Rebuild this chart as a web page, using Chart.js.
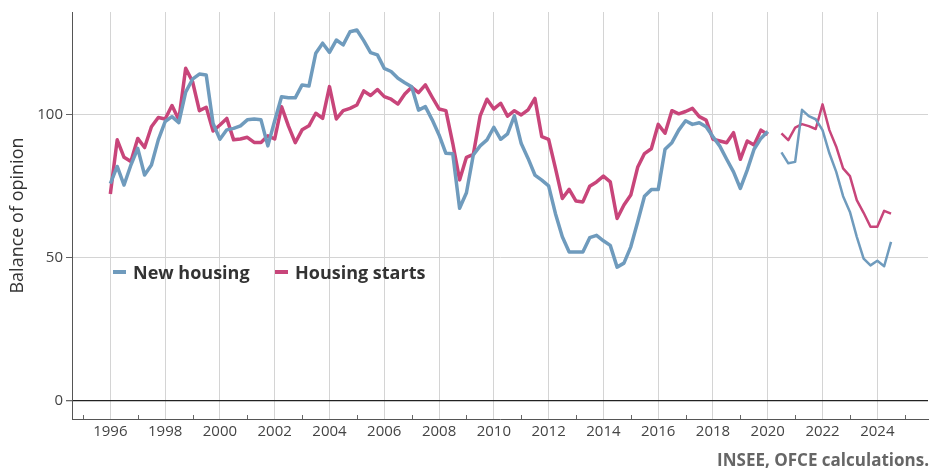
<!DOCTYPE html>
<html><head><meta charset="utf-8">
<script src="https://cdn.jsdelivr.net/npm/chart.js@4"></script>
<style>
html,body{margin:0;padding:0;background:#fff;}
#wrap{position:relative;width:932px;height:473px;font-family:"Open Sans",sans-serif;}
canvas{position:absolute;left:0;top:0;}
.leg{position:absolute;top:259px;font-weight:bold;font-size:18px;color:#333;display:flex;align-items:center;white-space:nowrap;line-height:26px;}
.leg i{display:inline-block;width:13px;height:4px;margin-right:7px;}
#src{position:absolute;right:3px;top:449px;font-weight:bold;font-size:17px;color:#666;line-height:22px;}
</style></head>
<body><div id="wrap"><canvas id="c" width="932" height="473"></canvas>
<div class="leg" style="left:113px"><i style="background:#6f9bbd"></i>New housing</div>
<div class="leg" style="left:275px"><i style="background:#c8457a"></i>Housing starts</div>
<div id="src">INSEE, OFCE calculations.</div>
</div>
<script>
// Quarterly categories 1996Q1 .. 2024Q3
const years = [1996,1997,1998,1999,2000,2001,2002,2003,2004,2005,2006,2007,2008,2009,2010,2011,2012,2013,2014,2015,2016,2017,2018,2019,2020,2021,2022,2023,2024];
const quarterNames = ['Q1','Q2','Q3','Q4'];
const lastQuarter = '2024Q3';

// Balance of opinion - new housing
const newHousing = [
  76, 82, 75.5, 82.5,
  88.3, 79, 82.5, 91.3,
  97.7, 99.4, 97.3, 108,
  112.5, 114.3, 114, 97,
  91.5, 94.8, 95.3, 96.2,
  98.3, 98.6, 98.3, 89.2,
  98, 106.4, 106, 106,
  110.5, 110.1, 121.6, 125.1,
  121.9, 126.2, 124.5, 129.1,
  129.7, 126, 121.8, 121,
  116.3, 115.2, 112.8, 111.3,
  109.9, 101.7, 102.9, 98.3,
  93, 86.6, 86.4, 67.4,
  72.8, 86, 89.2, 91.3,
  95.7, 91.5, 93.4, 99.7,
  90, 84.8, 79, 77.2,
  75.2, 65.5, 57.4, 52.1,
  52.1, 52.1, 57.1, 57.9,
  56, 54.4, 46.8, 48.2,
  53.9, 62.6, 71.6, 73.9,
  73.9, 88, 90.3, 94.7,
  98, 96.7, 97.3, 95.9,
  92.4, 89.1, 84.5, 80.1,
  74.3, 80.7, 88, 91.8,
  94.2, null, 86.9, 83.1,
  83.6, 101.8, 99.6, 98.5,
  94.7, 86.6, 80.1, 71.6,
  66.1, 57.4, 49.8, 47.4,
  49, 47.1, 55.6
];
// Balance of opinion - housing starts
const housingStarts = [
  72.4, 91.3, 85.2, 83.7,
  91.8, 88.6, 95.9, 99.1,
  98.6, 103.3, 98.3, 116.3,
  111.7, 101.5, 102.7, 94.4,
  96.5, 98.8, 91.3, 91.6,
  92.2, 90.4, 90.4, 92.7,
  91.6, 102.9, 96.2, 90.3,
  94.8, 96.2, 100.6, 98.8,
  109.9, 98.6, 101.5, 102.3,
  103.5, 108.4, 106.8, 108.9,
  106.4, 105.5, 103.8, 107.3,
  109.7, 107.8, 110.5, 106.2,
  102.1, 101.5, 90.1, 77.3,
  85.2, 86.2, 99.7, 105.5,
  102.1, 104.1, 99.6, 101.5,
  100, 101.8, 105.8, 92.4,
  91.5, 81.3, 70.8, 74,
  69.9, 69.6, 75.1, 76.6,
  78.6, 76.6, 63.8, 68.5,
  72, 81.7, 86.5, 88.2,
  96.7, 93.6, 101.5, 100.4,
  101.2, 102.3, 99.4, 98.2,
  91.5, 90.9, 90.3, 93.8,
  84.5, 90.9, 89.5, 94.7,
  93.2, null, 93.6, 91.2,
  95.6, 96.8, 96.1, 95.1,
  103.7, 94.7, 88.9, 81.3,
  78.6, 70.2, 65.8, 60.9,
  60.9, 66.5, 65.5
];
const yTicks = [0, 50, 100];
const seriesNames = ['New housing', 'Housing starts'];
const seriesColors = ['#6f9bbd', '#c8457a'];

const quarters = [];
years.forEach(y => quarterNames.forEach((q, i) => quarters.push({label: y + q, x: y + i / 4})));
const cats = quarters.slice(0, quarters.findIndex(q => q.label === lastQuarter) + 1);
const toPts = arr => cats.map((c, i) => ({x: c.x, y: arr[i]}));

const minorTicks = {
  id: 'minorTicks',
  afterDatasetsDraw(chart) {
    const {ctx, chartArea, scales: {x}} = chart;
    ctx.save();
    ctx.strokeStyle = '#666';
    ctx.lineWidth = 1;
    x.ticks.forEach(t => {
      if (t.value % 2 !== 0) {
        const px = Math.round(x.getPixelForValue(t.value)) + 0.5;
        ctx.beginPath();
        ctx.moveTo(px, chartArea.bottom);
        ctx.lineTo(px, chartArea.bottom - 4);
        ctx.stroke();
      }
    });
    ctx.restore();
  }
};

const thinAfterGap = ctx => ctx.p0.parsed.x > 2020.3 ? 2.5 : 3.5;

new Chart(document.getElementById('c'), {
  type: 'line',
  data: {
    datasets: [
      {label: seriesNames[0], data: toPts(newHousing), borderColor: seriesColors[0], backgroundColor: seriesColors[0],
       borderWidth: 3.5, pointRadius: 0, tension: 0, spanGaps: false, borderJoinStyle: 'round', segment: {borderWidth: thinAfterGap}},
      {label: seriesNames[1], data: toPts(housingStarts), borderColor: seriesColors[1], backgroundColor: seriesColors[1],
       borderWidth: 3.5, pointRadius: 0, tension: 0, spanGaps: false, borderJoinStyle: 'round', segment: {borderWidth: thinAfterGap}}
    ]
  },
  options: {
    responsive: false,
    animation: false,
    layout: {padding: {top: 12, right: 4, left: 0, bottom: 0}},
    plugins: {legend: {display: false}, tooltip: {enabled: false}},
    scales: {
      x: {
        type: 'linear',
        min: 1994.6, max: 2025.85,
        border: {color: '#555', width: 1},
        grid: {
          drawTicks: false,
          color: c => (c.tick && c.tick.value % 2 === 0) ? '#d4d4d4' : 'rgba(0,0,0,0)',
          lineWidth: 1
        },
        ticks: {
          stepSize: 1, autoSkip: false, maxRotation: 0, includeBounds: false, padding: 4,
          color: '#444', font: {family: '"Open Sans"', size: 15},
          callback: v => (v % 2 === 0 ? String(v) : '')
        },
        afterFit: s => { s.height = 54; }
      },
      y: {
        min: -6.3, max: 136,
        border: {color: '#555', width: 1},
        grid: {
          color: c => (c.tick && c.tick.value === 0) ? '#222' : '#d4d4d4',
          lineWidth: c => (c.tick && c.tick.value === 0) ? 1.3 : 1,
          tickColor: '#666', tickLength: 6
        },
        afterBuildTicks: s => { s.ticks = yTicks.map(v => ({value: v})); },
        ticks: {color: '#444', font: {family: '"Open Sans"', size: 15}, padding: 3},
        title: {display: true, text: 'Balance of opinion', color: '#333', font: {family: '"Open Sans"', size: 18}, padding: {top: 7, bottom: 4}},
        afterFit: s => { s.width = 72; }
      }
    }
  },
  plugins: [minorTicks]
});
</script>
</body></html>
